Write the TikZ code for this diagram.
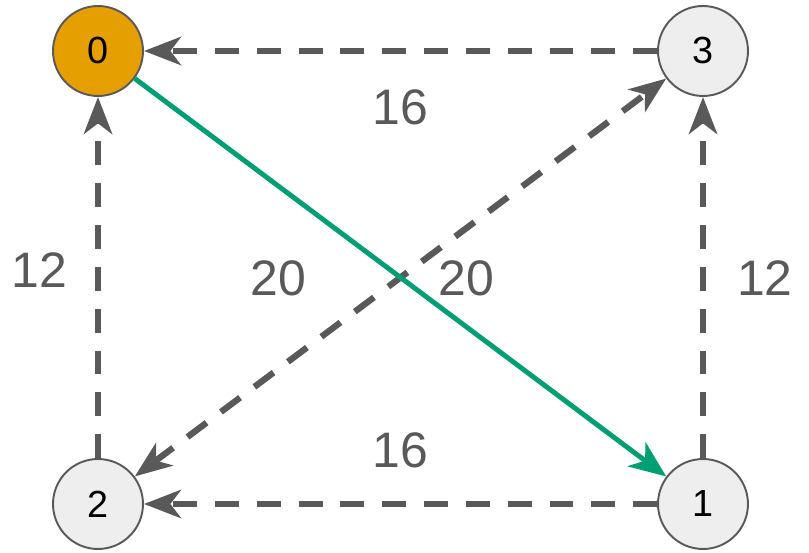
\documentclass[tikz,border=0pt]{standalone}
\usepackage{fontspec}
\setmainfont{Liberation Sans}
\usetikzlibrary{arrows.meta}
\definecolor{nodegray}{HTML}{EEEEEE}
\definecolor{linegray}{HTML}{595959}
\definecolor{startorange}{HTML}{E69F00}
\definecolor{treegreen}{HTML}{009E73}

\begin{document}
\begin{tikzpicture}[x=0.02cm, y=-0.02cm,
	v/.style={draw=linegray, line width=1.1pt, circle, fill=nodegray, minimum size=1.8cm, inner sep=0pt, font=\fontsize{21.5}{25}\selectfont},
	e/.style={linegray, line width=3.6pt, dash pattern=on 13.6pt off 10.2pt, -{Stealth[length=21pt, width=16pt, inset=6pt]}},
	t/.style={treegreen, line width=2.8pt, -{Stealth[length=21pt, width=17pt, inset=6pt]}},
	w/.style={text=linegray, font=\fontsize{28.4}{32}\selectfont}]
	\useasboundingbox (0,0) rectangle (809,553);
	\node[v, fill=startorange] (n0) at (98,51) {0};
	\node[v] (n3) at (703,51) {3};
	\node[v] (n2) at (98,504) {2};
	\node[v] (n1) at (703,504) {1};
	\draw[e] (n3) -- (n0) node[w, midway, yshift=-31.8pt] {16};
	\draw[e] (n1) -- (n2) node[w, midway, yshift=30.6pt] {16};
	\draw[e] (n2) -- (n0) node[w, midway, xshift=-33.5pt, yshift=4.5pt] {12};
	\draw[e] (n1) -- (n3) node[w, midway, xshift=35.2pt, yshift=-0.6pt] {12};
	\draw[e, {Stealth[length=21pt, width=16pt, inset=6pt]}-{Stealth[length=21pt, width=16pt, inset=6pt]}] (n2) -- (n3) node[w, midway, xshift=-69.7pt, yshift=-0.6pt] {20};
	\draw[t] (n0) -- (n1) node[w, midway, xshift=37.4pt, yshift=-0.6pt] {20};
\end{tikzpicture}
\end{document}
